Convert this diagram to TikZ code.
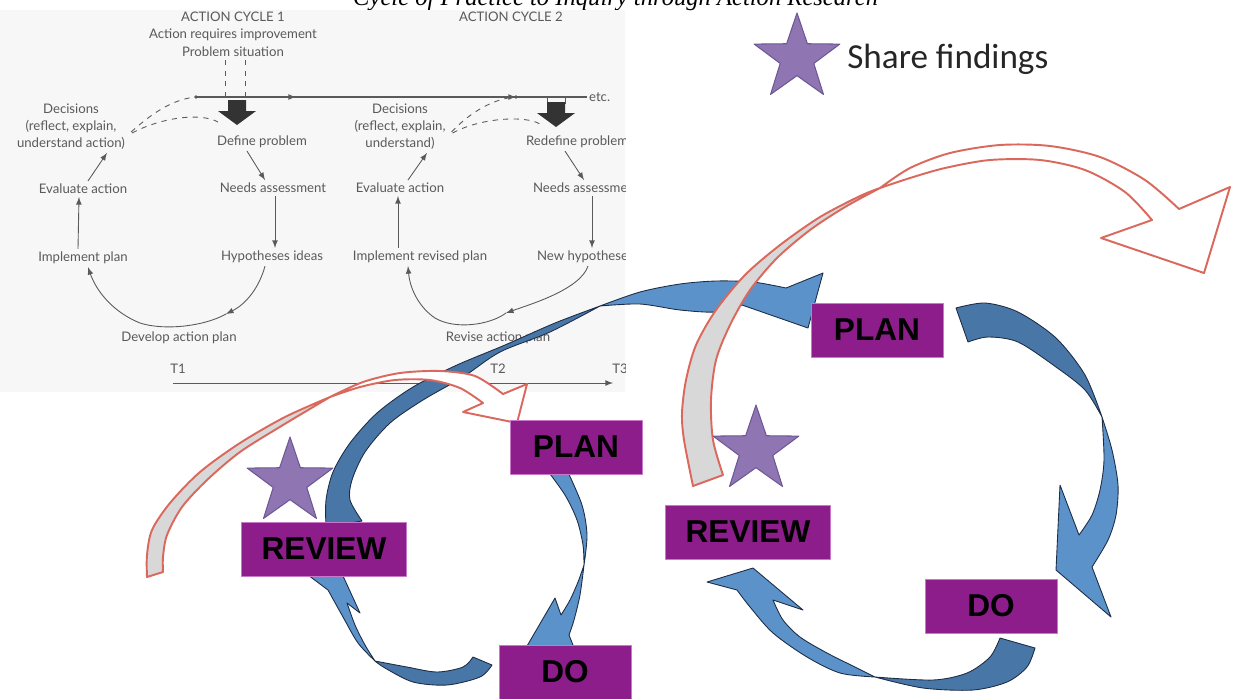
\documentclass[tikz,border=0pt]{standalone}
\usepackage{fontspec}
\usetikzlibrary{shapes.geometric,calc}
\newfontfamily\scanfont{Lato}
\newfontfamily\phasefont{Liberation Sans}
\newfontfamily\notefont{Carlito}
\newfontfamily\captionfont{Liberation Serif}
\definecolor{scangray}{RGB}{90,90,90}
\definecolor{scanbg}{RGB}{247,247,247}
\definecolor{blueL}{RGB}{90,146,201}
\definecolor{blueD}{RGB}{72,118,166}
\definecolor{blueE}{RGB}{30,45,70}
\definecolor{redE}{RGB}{218,104,92}
\definecolor{bandgray}{RGB}{216,216,216}
\definecolor{boxfill}{RGB}{142,29,140}
\definecolor{boxedge}{RGB}{200,120,200}
\definecolor{starfill}{RGB}{143,118,178}
\definecolor{staredge}{RGB}{108,88,150}

\begin{document}
\begin{tikzpicture}[x=0.02cm,y=-0.02cm,>=latex,line join=round,
    scantext/.style={font=\scanfont\fontsize{7.5}{9.7}\selectfont,text=scangray,align=center,inner sep=1pt},
    scanline/.style={scangray,line width=0.5pt},
    scanarr/.style={scanline,->},
    bluelight/.style={fill=blueL,draw=blueE,line width=0.5pt},
    bluedark/.style={fill=blueD,draw=blueE,line width=0.5pt},
    redband/.style={fill=bandgray,draw=redE,line width=1.1pt},
    redhead/.style={fill=white,draw=redE,line width=1.1pt},
    phase/.style={rectangle,fill=boxfill,draw=boxedge,line width=0.5pt,minimum height=1.08cm,
        font=\phasefont\bfseries\fontsize{18}{20}\selectfont,text=black},
    sharestar/.style={star,star points=5,star point ratio=2.55,minimum size=1.8cm,inner sep=0pt,
        fill=starfill,draw=staredge,line width=0.6pt}]
    \useasboundingbox (0,0) rectangle (1233,698);
    \clip (0,0) rectangle (1233,698);

    % the title line, cut off at the top
    \node[anchor=base west,font=\captionfont\itshape\fontsize{14}{16}\selectfont] (title) at (347,5)
        {Cycle of Practice to Inquiry through Action Research};

    % the scanned action cycle diagram
    \begin{scope}
    \clip (0,10) rectangle (625,392);
    \fill[scanbg] (0,10) rectangle (625,392);

    \foreach \name/\px/\py/\txt in {
        cyc1/233/17/{ACTION CYCLE 1},
        req1/233/35/{Action requires improvement},
        sit1/233/52/{Problem situation},
        cyc2/511/17/{ACTION CYCLE 2},
        dec1/71/127/{Decisions\\(reflect, explain,\\understand action)},
        def1/262/142/{Define problem},
        need1/273/188/{Needs assessment},
        hyp1/272/257/{Hypotheses ideas},
        dev1/179/338/{Develop action plan},
        imp1/83/258/{Implement plan},
        eva1/83/189/{Evaluate action},
        dec2/400/127/{Decisions\\(reflect, explain,\\understand)},
        imp2/420/257/{Implement revised plan},
        eva2/400/188/{Evaluate action},
        rev2/498/338/{Revise action plan},
        t1/178/369/{T1},
        t2/498/369/{T2},
        t3/620/369/{T3}}
        \node[scantext] (\name) at (\px,\py) {\txt};

    % the labels running off the right edge
    \node[scantext,anchor=west] (def2) at (524,142) {Redefine problem};
    \node[scantext,anchor=west] (need2) at (531,188) {Needs assessment};
    \node[scantext,anchor=west] (hyp2) at (535,257) {New hypotheses};
    \node[scantext,anchor=west] (etc) at (587,97) {etc.};

    % time line at the top
    \draw[scanline,line width=0.8pt] (196,97) -- (etc.west);
    \draw[scanarr] (196,97) -- (296,97);
    \draw[scanarr] (420,97) -- (516,97);
    \fill[scangray] (196,97) circle (1.8) (516,97) circle (1.8);
    \draw[scanline,dashed] (225,60) -- (225,100) (245,60) -- (245,100);
    \draw[scanline] (547,97) -- (547,104) (565,97) -- (565,104);

    % the block arrows
    \foreach \bx/\by in {237/100,556/102}
        \fill[black!80] (\bx-9,\by) -- (\bx+9,\by) -- (\bx+9,\by+11) -- (\bx+19,\by+11)
            -- (\bx,\by+25) -- (\bx-19,\by+11) -- (\bx-9,\by+11) -- cycle;

    % dashed links from the decisions
    \draw[scanline,dashed] ($(dec1.east)+(4,5)$) .. controls (150,115) and (172,99) .. (196,97);
    \draw[scanline,dashed] ($(dec1.east)+(5,6)$) .. controls (160,118) and (200,112) .. (218,122);
    \draw[scanline,dashed] ($(dec2.east)+(4,5)$) .. controls (470,112) and (495,98) .. (516,97);
    \draw[scanline,dashed] ($(dec2.east)+(5,6)$) .. controls (480,118) and (525,115) .. (540,124);

    % cycle 1
    \coordinate (mid1) at (226,314);
    \draw[scanarr] ($(def1.south)+(-15,1)$) -- ($(need1.north)+(-8,-1)$);
    \draw[scanarr] ($(need1.south)+(2,1)$) -- ($(hyp1.north)+(3,-1)$);
    \draw[scanarr] ($(hyp1.south)+(-7,1)$) .. controls (259,288) and (246,304) .. (mid1);
    \draw[scanarr] (mid1) .. controls (205,326) and (165,331) .. (140,323)
        .. controls (115,313) and (97,293) .. ($(imp1.south)+(5,1)$);
    \draw[scanarr] ($(imp1.north)+(-5,-1)$) -- ($(eva1.south)+(-4,1)$);
    \draw[scanarr] ($(eva1.north)+(5,-1)$) -- ($(dec1.south)+(36,1)$);

    % cycle 2
    \coordinate (mid2) at (506,313);
    \draw[scanarr] ($(def2.south west)+(41,1)$) -- ($(need2.north west)+(53,-1)$);
    \draw[scanarr] ($(need2.south west)+(61,1)$) -- ($(hyp2.north west)+(57,-1)$);
    \draw[scanarr] ($(hyp2.south west)+(53,1)$) .. controls (580,290) and (528,305) .. (mid2);
    \draw[scanarr] (mid2) .. controls (490,325) and (455,330) .. (435,318)
        .. controls (420,308) and (410,290) .. ($(imp2.south)+(-12,1)$);
    \draw[scanarr] ($(imp2.north)+(-22,-1)$) -- ($(eva2.south)+(-2,1)$);
    \draw[scanarr] ($(eva2.north)+(8,-1)$) -- ($(dec2.south)+(27,1)$);

    % time axis
    \draw[scanarr] (173,383) -- (613,383);
    \end{scope}

    % review to the next plan
    \filldraw[bluedark] plot[smooth] coordinates {(326,527) (326,500) (333,472) (350,443) (377,413) (413,387) (457,365) (505,345) (555,323) (600,306)}
        -- plot[smooth] coordinates {(600,306) (550,332) (500,352) (463,377) (423,400) (390,423) (365,452) (352,480) (350,500) (362,521)} -- cycle;
    \filldraw[bluelight] plot[smooth] coordinates {(600,306) (640,292) (680,284) (716,281) (753,282) (786,288)}
        -- (823,273) -- (808,328) -- (742,305)
        -- plot[smooth] coordinates {(742,305) (716,312) (680,310) (640,304) (600,306)} -- cycle;

    % share arrow on the left
    \filldraw[redband] plot[smooth] coordinates {(147,577) (147,555) (152,530) (170,503) (200,472) (240,443) (285,417) (330,397)}
        -- plot[smooth] coordinates {(330,397) (283,425) (240,452) (207,480) (182,507) (167,535) (163,557) (163,572)} -- cycle;
    \filldraw[redhead] plot[smooth] coordinates {(330,397) (363,382) (400,373) (440,371) (475,376) (503,394)}
        -- (527,384) -- (517,423) -- (463,412) -- (483,403)
        -- plot[smooth] coordinates {(483,403) (460,388) (430,380) (395,380) (360,387) (330,397)} -- cycle;

    % left cycle: plan to do
    \filldraw[bluelight] plot[smooth] coordinates {(547,470) (565,495) (577,520) (583,545) (584,565)}
        -- plot[smooth] coordinates {(584,565) (587,535) (582,505) (567,470)} -- cycle;
    \filldraw[bluelight] plot[smooth] coordinates {(584,565) (580,595) (574,620) (569,635)}
        -- (577,655) -- (527,646) -- (555,598) -- (561,615)
        -- plot[smooth] coordinates {(561,615) (570,600) (578,582) (584,565)} -- cycle;

    % left cycle: do to review
    \filldraw[bluedark] plot[smooth] coordinates {(492,665) (480,677) (447,685) (413,682) (385,668) (375,661)}
        -- plot[smooth] coordinates {(375,661) (407,667) (437,672) (463,667) (473,657)} -- cycle;
    \filldraw[bluelight] plot[smooth] coordinates {(375,661) (358,643) (343,617) (328,590)}
        -- (308,575) -- (338,565) -- (360,613) -- (347,603)
        -- plot[smooth] coordinates {(347,603) (355,625) (365,645) (375,661)} -- cycle;

    % right cycle: plan to do
    \filldraw[bluedark] plot[smooth] coordinates {(956,308) (985,303) (1018,312) (1056,338) (1085,375) (1102,417)}
        -- plot[smooth] coordinates {(1102,417) (1085,390) (1056,367) (1018,342) (988,337) (968,342)} -- cycle;
    \filldraw[bluelight] plot[smooth] coordinates {(1102,417) (1112,450) (1118,485) (1116,515) (1108,540) (1092,567)}
        -- (1111,617) -- (1056,570) -- (1060,485) -- (1079,535)
        -- plot[smooth] coordinates {(1079,535) (1092,515) (1100,490) (1104,460) (1102,417)} -- cycle;

    % right cycle: do to review
    \filldraw[bluedark] plot[smooth] coordinates {(1035,648) (1027,667) (1007,682) (973,690) (923,688) (875,677)}
        -- plot[smooth] coordinates {(875,677) (933,680) (967,673) (990,657) (1000,638)} -- cycle;
    \filldraw[bluelight] plot[smooth] coordinates {(875,677) (840,673) (807,657) (773,633) (750,607) (737,590)}
        -- (707,582) -- (753,568) -- (803,610) -- (773,600)
        -- plot[smooth] coordinates {(773,600) (783,620) (800,637) (827,653) (857,668) (875,677)} -- cycle;

    % share arrow on the right
    \filldraw[redband] plot[smooth] coordinates {(693,486) (684,440) (682,413) (686,380) (696,345) (716,310) (745,275) (780,245) (820,217) (860,196) (880,188)}
        -- plot[smooth] coordinates {(880,188) (845,207) (810,230) (777,258) (750,290) (730,325) (716,360) (711,400) (713,440) (723,475)} -- cycle;
    \filldraw[redhead] plot[smooth] coordinates {(880,188) (910,168) (950,153) (1000,145) (1050,146) (1100,157) (1145,180) (1179,209)}
        -- (1230,187) -- (1204,273) -- (1101,238) -- (1152,220)
        -- plot[smooth] coordinates {(1152,220) (1125,192) (1085,170) (1040,160) (990,160) (945,168) (910,178) (880,188)} -- cycle;

    % the phase boxes
    \foreach \name/\px/\py/\bw/\txt in {
        planL/576/447/2.64/PLAN,
        reviewL/324/549/3.3/REVIEW,
        doL/565/672/2.64/DO,
        planR/877/330/2.64/PLAN,
        reviewR/748/532/3.3/REVIEW,
        doR/991/606/2.64/DO}
        \node[phase,minimum width=\bw cm] (\name) at (\px,\py) {\txt};

    % the stars
    \foreach \name/\px/\py in {starL/290/482,starR/756/450,starKey/797/58}
        \node[sharestar] (\name) at (\px,\py) {};
    \node[anchor=base west,inner sep=0pt,font=\notefont\fontsize{20}{24}\selectfont,text=black!85] (share) at (847,68) {Share findings};
\end{tikzpicture}
\end{document}
